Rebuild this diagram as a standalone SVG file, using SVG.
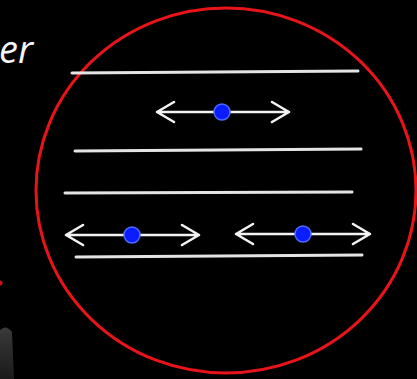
<svg xmlns="http://www.w3.org/2000/svg" width="417" height="379" viewBox="0 0 417 379">
<defs>
<style>
.layer{stroke:#e4e4e4;stroke-width:3;fill:none;stroke-linecap:round}
.arr{stroke:#f2f2f2;stroke-width:2.6;fill:none;stroke-linecap:round;stroke-linejoin:round}
.dot{fill:#0b1cff;stroke:#4d6bff;stroke-width:1.5}
</style>
<linearGradient id="g" x1="0" y1="0" x2="0" y2="1">
<stop offset="0" stop-color="#3a3a3a"/>
<stop offset="1" stop-color="#1a1a1a"/>
</linearGradient>
</defs>
<rect width="417" height="379" fill="#000"/>
<text x="-1" y="63" font-family="Open Sans, Liberation Sans, sans-serif" font-style="italic" font-size="38" fill="#f4f4f4">er</text>
<circle cx="0" cy="283" r="2.5" fill="#d01010"/>
<path d="M0,330 Q6,324 12,332 L14,379 L0,379 Z" fill="url(#g)"/>
<g id="boundary">
<ellipse cx="226" cy="190.5" rx="190" ry="182.5" fill="none" stroke="#e8141a" stroke-width="3"/>
</g>
<g id="layers">
<line class="layer" x1="72" y1="73" x2="358" y2="71"/>
<line class="layer" x1="75" y1="151" x2="361" y2="149"/>
<line class="layer" x1="65" y1="193" x2="352" y2="192"/>
<line class="layer" x1="76" y1="257" x2="362" y2="255"/>
</g>
<g id="connectors">
<g class="arr">
<path d="M157,112 H289 M174,102 L157,112 L174,122 M272,102 L289,112 L272,122"/>
<path d="M66,235 H199 M83,225 L66,235 L83,245 M182,225 L199,235 L182,245"/>
<path d="M236,234 H370 M253,224 L236,234 L253,244 M353,224 L370,234 L353,244"/>
</g>
</g>
<g id="particle-top"><circle class="dot" cx="222" cy="112" r="8"/></g>
<g id="particle-left"><circle class="dot" cx="132" cy="235" r="8"/></g>
<g id="particle-right"><circle class="dot" cx="303" cy="234" r="8"/></g>
</svg>
